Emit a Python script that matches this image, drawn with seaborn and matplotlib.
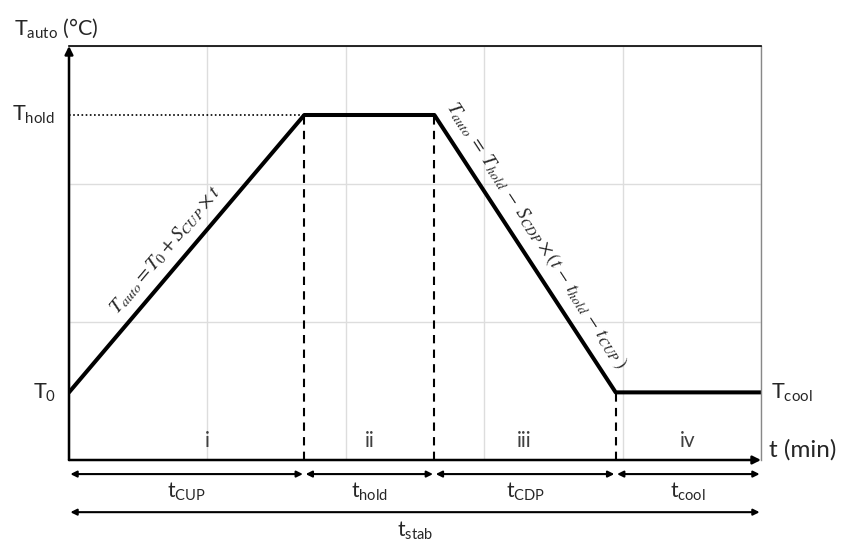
"""
오토클레이브 온도 프로파일 (승온-유지-냉각-안정화) 다이어그램
"""
import matplotlib
matplotlib.use("Agg")
import matplotlib.pyplot as plt
import numpy as np
import pandas as pd
import seaborn as sns

# 프로파일 꺾임점 (grid 한 칸 = 1)
t_points = [0.0, 1.70, 2.64, 3.95, 5.0]
T_points = [0.49, 2.5, 2.5, 0.49, 0.49]
T0, T_hold, T_cool = 0.49, 2.5, 0.49

phase_names = ["i", "ii", "iii", "iv"]
phase_label_x = [1.0, 2.17, 3.29, 4.47]
bounds = [0.0, 1.70, 2.64, 3.95, 5.0]
dur_labels = [r"t$_\mathregular{CUP}$", r"t$_\mathregular{hold}$",
              r"t$_\mathregular{CDP}$", r"t$_\mathregular{cool}$"]

sns.set_theme(style="white")
plt.rcParams["font.family"] = ["Lato", "DejaVu Sans"]
plt.rcParams["mathtext.fontset"] = "custom"
plt.rcParams["mathtext.rm"] = "Lato"
plt.rcParams["mathtext.it"] = "Lato:italic"

TXT = "#262626"

fig = plt.figure(figsize=(8.44, 5.43), dpi=100)
ax = fig.add_axes([69 / 844, 83 / 543, 692 / 844, 414 / 543])

df = pd.DataFrame({"t": t_points, "T": T_points})
sns.lineplot(data=df, x="t", y="T", color="black", lw=2.9, ax=ax,
             solid_joinstyle="round")

ax.set_xlim(0, 5)
ax.set_ylim(0, 3)
ax.set_xticks(range(6))
ax.set_yticks(range(4))
ax.set_xticklabels([])
ax.set_yticklabels([])
ax.tick_params(length=0)
ax.grid(True, color="#dddddd", lw=1)
ax.set_xlabel("")
ax.set_ylabel("")

for s in ["left", "bottom"]:
    ax.spines[s].set_visible(False)
ax.spines["top"].set_color("black")
ax.spines["top"].set_linewidth(1.2)
ax.spines["right"].set_color("#888888")
ax.spines["right"].set_linewidth(1.0)

# 축 화살표
ax.annotate("", xy=(0, 1.0), xytext=(0, 0), xycoords="axes fraction",
            arrowprops=dict(arrowstyle="-|>", color="black", lw=1.8,
                            mutation_scale=12, shrinkA=0, shrinkB=0))
ax.annotate("", xy=(1.0, 0), xytext=(0, 0), xycoords="axes fraction",
            arrowprops=dict(arrowstyle="-|>", color="black", lw=1.8,
                            mutation_scale=12, shrinkA=0, shrinkB=0))

# T_hold 점선, 경계 파선
ax.plot([0, t_points[1]], [T_hold, T_hold], ls=(0, (1, 1.5)), color="black", lw=1.2)
for xb, yb in zip(bounds[1:4], [T_hold, T_hold, T_cool]):
    ax.plot([xb, xb], [0, yb], ls=(0, (4, 3)), color="black", lw=1.5)

# 축 라벨
ax.text(-0.0795, 1.043, r"T$_\mathregular{auto}$ (°C)", transform=ax.transAxes,
        ha="left", va="center", fontsize=15.5, color=TXT)
ax.text(-0.02, T_hold, r"T$_\mathregular{hold}$", transform=ax.get_yaxis_transform(),
        ha="right", va="center", fontsize=15.5, color=TXT)
ax.text(-0.018, T0, r"T$_\mathregular{0}$", transform=ax.get_yaxis_transform(),
        ha="right", va="center", fontsize=15.5, color=TXT)
ax.text(1.015, T_cool, r"T$_\mathregular{cool}$", transform=ax.get_yaxis_transform(),
        ha="left", va="center", fontsize=15.5, color=TXT)
ax.text(1.012, 0.025, "t (min)", transform=ax.transAxes,
        ha="left", va="center", fontsize=17.5, color=TXT)

# 구간 번호
for name, xp in zip(phase_names, phase_label_x):
    ax.text(xp, 0.046, name, transform=ax.get_xaxis_transform(),
            ha="center", va="center", fontsize=15, color="#404040")

# 구간 길이 화살표
xform = ax.get_xaxis_transform()
for lab, a, b in zip(dur_labels, bounds[:-1], bounds[1:]):
    ax.annotate("", xy=(b, -0.034), xytext=(a, -0.034), xycoords=xform,
                arrowprops=dict(arrowstyle="<|-|>", color="black", lw=1.5,
                                mutation_scale=9, shrinkA=1, shrinkB=1),
                annotation_clip=False)
    ax.text((a + b) / 2, -0.078, lab, transform=xform, ha="center", va="center",
            fontsize=15, color=TXT)
ax.annotate("", xy=(bounds[-1], -0.126), xytext=(bounds[0], -0.126), xycoords=xform,
            arrowprops=dict(arrowstyle="<|-|>", color="black", lw=1.5,
                            mutation_scale=9, shrinkA=1, shrinkB=1),
            annotation_clip=False)
ax.text((bounds[0] + bounds[-1]) / 2, -0.17, r"t$_\mathregular{stab}$",
        transform=xform, ha="center", va="center", fontsize=15, color=TXT)


def seg_angle(p, q):
    d = ax.transData.transform([q]) - ax.transData.transform([p])
    return np.degrees(np.arctan2(d[0][1], d[0][0]))


ang1 = seg_angle((t_points[0], T_points[0]), (t_points[1], T_points[1]))
ang2 = seg_angle((t_points[2], T_points[2]), (t_points[3], T_points[3]))

ax.text(0.70, 1.52, r"$T_{auto} = T_0 + S_{CUP} \times t$", rotation=ang1,
        rotation_mode="anchor", ha="center", va="center", fontsize=14.5,
        color=TXT, math_fontfamily="stix")
ax.text(3.38, 1.63,
        r"$T_{auto}\;=\;T_{hold}\;-\;S_{CDP}\times(t\,-\,t_{hold}\,-\,t_{CUP}\,)$",
        rotation=ang2, rotation_mode="anchor", ha="center", va="center",
        fontsize=14, color=TXT, math_fontfamily="stix")

fig.savefig("out.png", dpi=100)
